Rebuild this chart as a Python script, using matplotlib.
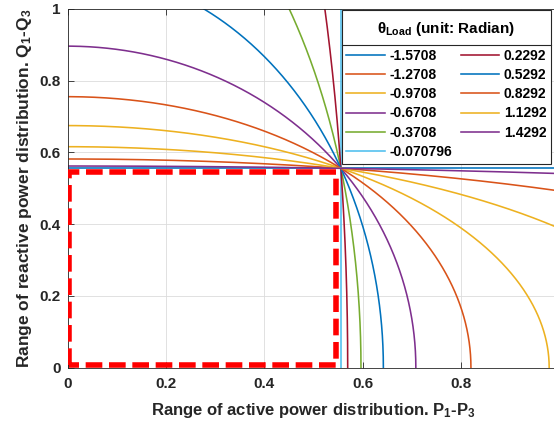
import numpy as np
import matplotlib
matplotlib.use('Agg')
import matplotlib.pyplot as plt
from matplotlib.lines import Line2D

plt.rcParams['font.family'] = ['Liberation Sans', 'DejaVu Sans']
plt.rcParams['font.weight'] = 'bold'
plt.rcParams['axes.labelweight'] = 'bold'
plt.rcParams['mathtext.fontset'] = 'custom'
plt.rcParams['mathtext.rm'] = 'Liberation Sans:bold'
plt.rcParams['mathtext.it'] = 'Liberation Sans:bold'
plt.rcParams['mathtext.bf'] = 'Liberation Sans:bold'
plt.rcParams['mathtext.default'] = 'rm'

# load angle of each curve (legend values)
theta = [-1.5708, -1.2708, -0.9708, -0.6708, -0.3708, -0.070796,
         0.2292, 0.5292, 0.8292, 1.1292, 1.4292]
# where each curve meets the P axis (None = outside the view)
p_cross = [None, None, 0.979, 0.708, 0.5965, 0.5556, 0.5695, 0.642, 0.820, None, None]
# where each curve meets the Q axis (None = outside the view)
q_cross = [0.5556, 0.5816, None, None, None, None, None, None, None, 0.6159, 0.562]
# point shared by all curves
common_pq = 0.5556
# red dashed region
box_p = [0.004, 0.546]
box_q = [0.006, 0.545]

colors = ['#0072BD', '#D95319', '#EDB120', '#7E2F8E', '#77AC30', '#4DBEEE', '#A2142F']
leg_title = 'θ$_{Load}$ (unit: Radian)'

W, H = 554, 423
fig = plt.figure(figsize=(W / 100, H / 100), dpi=100)
ax = fig.add_axes([67.5 / W, 1 - 367.5 / H, (559.5 - 67.5) / W, 358.5 / H])

k = 1.0 / common_pq ** 2
t = np.linspace(0, np.pi / 2, 800)
for i, th in enumerate(theta):
    if p_cross[i] is not None:
        p = 1.0 / p_cross[i] ** 2
        q = k - p
    else:
        q = 1.0 / q_cross[i] ** 2
        p = k - q
    if q < 1e-6:
        x = [1 / np.sqrt(p)] * 2
        y = [0, 1.05]
    elif p < 1e-6:
        x = [0, 1.05]
        y = [1 / np.sqrt(q)] * 2
    else:
        x = np.cos(t) / np.sqrt(p)
        y = np.sin(t) / np.sqrt(q)
    ax.plot(x, y, color=colors[i % 7], lw=1.15, label=f'{th:.5g}')

# dashed rectangle
bx = [box_p[0], box_p[0], box_p[1], box_p[1], box_p[0]]
by = [box_q[0], box_q[1], box_q[1], box_q[0], box_q[0]]
ax.plot(bx, by, color='#FF0000', lw=4, ls=(0, (3, 1.2)), dash_capstyle='butt', zorder=3)

ax.set_xlim(0, 1)
ax.set_ylim(0, 1)
ax.set_xticks([0, 0.2, 0.4, 0.6, 0.8])
ax.set_xticklabels(['0', '0.2', '0.4', '0.6', '0.8'])
ax.set_yticks([0, 0.2, 0.4, 0.6, 0.8, 1])
ax.set_yticklabels(['0', '0.2', '0.4', '0.6', '0.8', '1'])
ax.tick_params(direction='in', top=True, right=True, length=4, width=0.6,
               labelsize=11, labelcolor='#262626', color='#262626')
ax.tick_params(axis='x', pad=7)
ax.tick_params(axis='y', pad=5)
ax.grid(True, color='#dcdcdc', lw=0.6)
ax.set_axisbelow(True)
for s in ax.spines.values():
    s.set_color('#262626')
    s.set_linewidth(0.6)

ax.set_xlabel('Range of active power distribution. P$_1$-P$_3$', fontsize=12,
              color='#262626', labelpad=7)
ax.set_ylabel('Range of reactive power distribution. Q$_1$-Q$_3$', fontsize=12.5,
              color='#262626', labelpad=4)

# legend: blank title reserves the header row, real title drawn on top
leg = fig.legend(loc='upper right', bbox_to_anchor=(551 / W, 1 - 10 / H), ncol=2,
                 fontsize=10, title=' ',
                 title_fontproperties={'size': 11, 'weight': 'bold'},
                 frameon=True, fancybox=False, edgecolor='#262626', framealpha=1,
                 handlelength=2.8, handletextpad=0.3, columnspacing=0.6,
                 labelspacing=0.37, borderpad=0.35, borderaxespad=0)
leg.get_frame().set_linewidth(0.8)

# shift the entries so the first row sits ~56 px from the top
fig.canvas.draw()
sep = leg._legend_box.sep
for _ in range(2):
    e = leg.get_texts()[0].get_window_extent()
    row_y = H - (e.y0 + e.y1) / 2
    sep = sep - (row_y - 56) / 1.389
    leg._legend_box.sep = sep
    fig.canvas.draw()

lb = leg.get_window_extent()
cx = (lb.x0 + lb.x1) / 2 / W
fig.text(cx, 1 - 29 / H, leg_title, ha='center', va='center', fontsize=11,
         fontweight='bold', color='#000000', zorder=10)
ysep = 1 - 45 / H
fig.add_artist(Line2D([lb.x0 / W, lb.x1 / W], [ysep, ysep], color='#262626',
                      lw=0.8, zorder=10))

fig.savefig('out.png', dpi=100)
